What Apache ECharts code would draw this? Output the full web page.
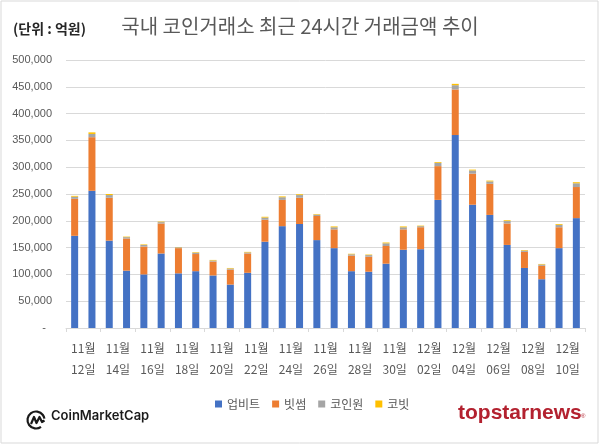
<!DOCTYPE html>
<html>
<head>
<meta charset="utf-8">
<script src="https://cdn.jsdelivr.net/npm/echarts@6/dist/echarts.min.js"></script>
<style>
html,body{margin:0;padding:0;background:#fff;}
#c{width:600px;height:445px;}
</style>
</head>
<body>
<div id="c"></div>
<script>
const categories = [
  '11월\n12일','11월\n13일','11월\n14일','11월\n15일','11월\n16일','11월\n17일','11월\n18일','11월\n19일',
  '11월\n20일','11월\n21일','11월\n22일','11월\n23일','11월\n24일','11월\n25일','11월\n26일','11월\n27일',
  '11월\n28일','11월\n29일','11월\n30일','12월\n01일','12월\n02일','12월\n03일','12월\n04일','12월\n05일',
  '12월\n06일','12월\n07일','12월\n08일','12월\n09일','12월\n10일','12월\n11일'
];
const tickLabels = ['11월\n12일','11월\n14일','11월\n16일','11월\n18일','11월\n20일','11월\n22일','11월\n24일','11월\n26일',
  '11월\n28일','11월\n30일','12월\n02일','12월\n04일','12월\n06일','12월\n08일','12월\n10일'];
const seriesNames = ['업비트','빗썸','코인원','코빗'];
const upbit   = [172000,256000,163000,107000,100000,139000,102000,106000,98000,81000,103000,161000,190000,194000,164000,149000,106000,105000,120000,146000,147000,239000,360000,230000,211000,155000,112000,91000,149000,205000];
const bithumb = [69000,100000,80000,60000,52000,56000,47000,32000,26000,28000,36000,41000,49000,49000,45000,35000,29000,28000,33000,38000,41000,63000,85000,58000,58000,40000,30000,25000,39000,58000];
const coinone = [4000,6000,5000,2500,3000,2500,1500,2500,2000,2000,2000,4000,5000,5000,2500,4000,2500,3000,5000,4000,2000,6000,8000,6000,4500,4500,2500,2500,4500,7000];
const korbit  = [1500,3000,2000,1000,1000,1000,500,1000,1000,1000,1000,1500,1500,1500,1000,1500,1000,1000,1500,1500,1000,1500,2500,1500,1500,1500,1000,1000,1500,2000];
const titleText = '국내 코인거래소 최근 24시간 거래금액 추이';
const unitText = '(단위 : 억원)';

const colors = ['#4472C4','#ED7D31','#A5A5A5','#FFC000'];
const values = [upbit, bithumb, coinone, korbit];
const FONT = '"Liberation Sans","Noto Sans CJK KR",sans-serif';
const KFONT = '"Noto Sans CJK KR","Liberation Sans",sans-serif';

const chart = echarts.init(document.getElementById('c'), null, {renderer:'canvas'});
chart.setOption({
  backgroundColor: '#fff',
  animation: false,
  color: colors,
  textStyle: {fontFamily: FONT},
  title: {
    text: titleText,
    left: 'center',
    top: 11,
    textStyle: {fontFamily: KFONT, fontSize: 20, fontWeight: 'normal', color: '#595959'}
  },
  legend: {
    left: 210,
    top: 393,
    icon: 'rect',
    itemWidth: 7,
    itemHeight: 7,
    itemGap: 12,
    textStyle: {fontFamily: KFONT, fontSize: 12, color: '#595959'},
    data: seriesNames
  },
  grid: {left: 66, right: 15, top: 60, bottom: 117, containLabel: false},
  xAxis: [{
    type: 'category',
    data: categories,
    boundaryGap: true,
    axisLine: {lineStyle: {color: '#d9d9d9'}},
    axisTick: {show: true, interval: 1, length: 4, lineStyle: {color: '#d9d9d9'}},
    axisLabel: {show: false}
  }, {
    type: 'category',
    data: tickLabels,
    position: 'bottom',
    boundaryGap: true,
    axisLine: {show: false},
    axisTick: {show: false},
    axisLabel: {
      interval: 0,
      margin: 10,
      color: '#595959',
      fontSize: 12,
      lineHeight: 21,
      fontFamily: KFONT
    }
  }],
  yAxis: {
    type: 'value',
    min: 0,
    max: 500000,
    interval: 50000,
    axisLine: {show: false},
    axisTick: {show: false},
    splitLine: {lineStyle: {color: '#d9d9d9'}},
    axisLabel: {
      margin: 14,
      color: '#595959',
      fontSize: 11,
      fontFamily: FONT,
      formatter: function (v) {
        if (v === 0) return '-  ';
        return String(v).replace(/\B(?=(\d{3})+(?!\d))/g, ',');
      }
    }
  },
  series: seriesNames.map((n, i) => ({
    name: n,
    type: 'bar',
    stack: 'total',
    xAxisIndex: 0,
    barWidth: 7,
    data: values[i],
    itemStyle: {color: colors[i]}
  })),
  graphic: [
    {type: 'rect', shape: {x: 1, y: 1, width: 597, height: 442}, style: {fill: 'none', stroke: '#d9d9d9', lineWidth: 1}, silent: true},
    {type: 'text', left: 13, top: 22, style: {text: unitText, fontFamily: KFONT, fontSize: 14, fontWeight: 'bold', fill: '#262626'}},
    {type: 'group', left: 25, top: 409, children: [
      {type: 'arc', shape: {cx: 9, cy: 9, r: 8.5, startAngle: Math.PI * 0.3, endAngle: Math.PI * 1.95}, style: {fill: 'none', stroke: '#1a1a1a', lineWidth: 2.2}},
      {type: 'polyline', shape: {points: [[4, 13], [7, 6], [9.5, 12], [12.5, 6], [15, 11], [17.5, 9.5]]}, style: {fill: 'none', stroke: '#1a1a1a', lineWidth: 2.2, lineJoin: 'round'}}
    ]},
    {type: 'text', left: 51, top: 410, style: {text: 'CoinMarketCap', fontFamily: '"Inter","Liberation Sans",sans-serif', fontSize: 13, fontWeight: 600, fill: '#1a1a1a'}},
    {type: 'text', left: 458, top: 403, style: {text: 'topstarnews', fontFamily: '"Liberation Sans",sans-serif', fontSize: 21, fontWeight: 'bold', fill: '#b3212f'}},
    {type: 'text', left: 581, top: 413, style: {text: '®', fontFamily: '"Liberation Sans",sans-serif', fontSize: 6, fill: '#b3212f'}}
  ]
});
</script>
</body>
</html>
